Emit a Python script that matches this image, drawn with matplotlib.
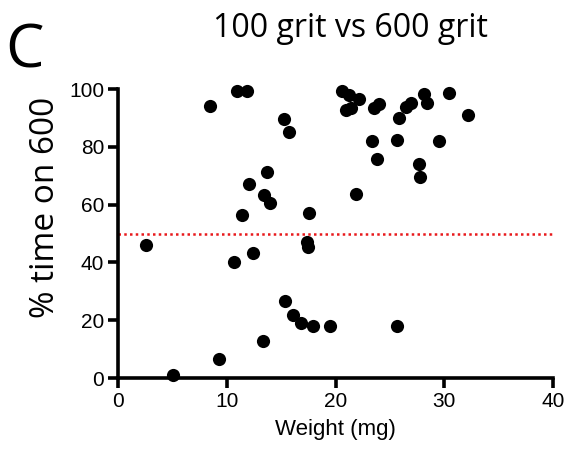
import matplotlib
matplotlib.use('Agg')
import matplotlib.pyplot as plt

# weight (mg) and % time spent on 600 grit
weight = [2.6, 5.1, 8.5, 10.9, 11.9, 12.05, 11.4, 13.4, 14.0, 13.7,
          10.7, 12.4, 9.3, 13.3, 15.3, 15.7, 17.6, 17.4, 17.5, 15.4,
          16.1, 16.8, 17.9, 19.5, 25.7, 20.6, 21.2, 22.2, 21.0, 21.4,
          23.5, 24.0, 25.8, 26.5, 26.9, 28.1, 28.4, 30.4, 32.2, 23.4,
          25.7, 29.5, 23.8, 27.7, 27.8, 21.9]
pct_600 = [46.0, 1.0, 94.1, 99.3, 99.3, 67.1, 56.4, 63.3, 60.7, 71.4,
           40.3, 43.1, 6.6, 12.8, 89.5, 85.2, 57.0, 47.2, 45.4, 26.6,
           21.9, 19.1, 18.0, 18.0, 18.0, 99.4, 97.9, 96.6, 92.7, 93.3,
           93.3, 94.8, 90.1, 93.9, 95.3, 98.3, 95.3, 98.7, 90.9, 81.9,
           82.4, 81.9, 75.8, 74.0, 69.7, 63.7]
cutoff = 50

fig = plt.figure(figsize=(5.67, 4.54), dpi=100)
ax = fig.add_axes([118/567, 1 - 378/454, (553-118)/567, (378-89)/454])

ax.axhline(cutoff, color='#e8191c', linestyle=(0, (1, 1.3)), linewidth=1.8, zorder=1)
ax.scatter(weight, pct_600, s=90, color='black', zorder=3, clip_on=False, linewidths=0)

ax.set_xlim(0, 40)
ax.set_ylim(0, 100)
ax.set_xticks([0, 10, 20, 30, 40])
ax.set_yticks([0, 20, 40, 60, 80, 100])
for s in ['top', 'right']:
    ax.spines[s].set_visible(False)
for s in ['left', 'bottom']:
    ax.spines[s].set_linewidth(2.6)
ax.tick_params(width=2.6, length=7, labelsize=15, pad=3)
for lab in ax.get_xticklabels() + ax.get_yticklabels():
    lab.set_family('Liberation Sans')

ax.set_xlabel('Weight (mg)', fontsize=16, family='Liberation Sans', labelpad=6)
# y label sits a bit above the axes centre in the original
fig.text(46/567, 1 - 207/454, '% time on 600', fontsize=24, family='Open Sans',
         rotation=90, ha='center', va='center')

fig.text(350/567, 1 - 37/454, '100 grit vs 600 grit', fontsize=23, family='Open Sans',
         ha='center', va='baseline')
fig.text(5/567, 1 - 67/454, 'C', fontsize=44, family='Open Sans', ha='left', va='baseline')

fig.savefig('out.png', dpi=100)
